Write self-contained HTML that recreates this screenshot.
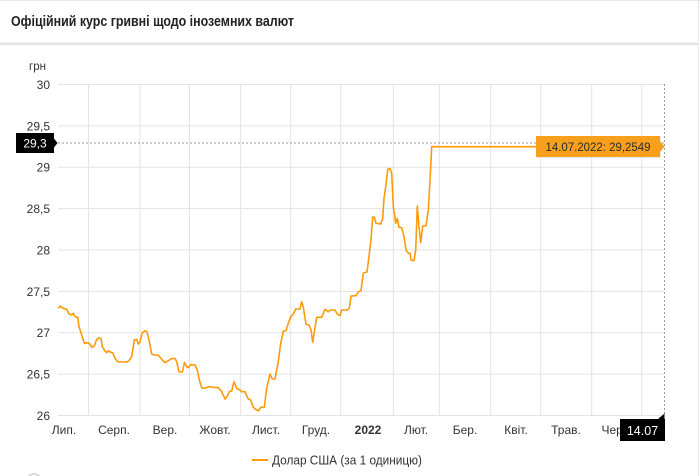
<!DOCTYPE html>
<html><head><meta charset="utf-8"><style>
html,body{margin:0;padding:0;background:#fff;width:700px;height:476px;overflow:hidden}
svg{display:block;font-family:"Liberation Sans",Arial,sans-serif}
</style></head><body>
<svg width="700" height="476" viewBox="0 0 700 476" xmlns="http://www.w3.org/2000/svg">
<rect x="0" y="0" width="700" height="476" fill="#fff"/>
<!-- header -->
<line x1="0" y1="0.5" x2="700" y2="0.5" stroke="#e6e6e6" stroke-width="1"/>
<rect x="0" y="42.5" width="699" height="2.5" fill="#e4e4e4"/>
<line x1="698.5" y1="0" x2="698.5" y2="476" stroke="#e8e8e8" stroke-width="1"/>
<text x="11" y="26" font-size="14.5" font-weight="bold" fill="#222" textLength="283" lengthAdjust="spacingAndGlyphs">Офіційний курс гривні щодо іноземних валют</text>

<!-- grid horizontal -->
<g stroke="#e3e3e3" stroke-width="1">
<line x1="58" y1="84.5" x2="664" y2="84.5"/>
<line x1="58" y1="125.9" x2="664" y2="125.9"/>
<line x1="58" y1="167.3" x2="664" y2="167.3"/>
<line x1="58" y1="208.6" x2="664" y2="208.6"/>
<line x1="58" y1="250" x2="664" y2="250"/>
<line x1="58" y1="291.4" x2="664" y2="291.4"/>
<line x1="58" y1="332.8" x2="664" y2="332.8"/>
<line x1="58" y1="374.1" x2="664" y2="374.1"/>
<line x1="58" y1="415.5" x2="664" y2="415.5"/>
</g>
<!-- grid vertical -->
<g stroke="#e3e3e3" stroke-width="1">
<line x1="88.5" y1="84.5" x2="88.5" y2="415.5"/>
<line x1="140" y1="84.5" x2="140" y2="415.5"/>
<line x1="189.5" y1="84.5" x2="189.5" y2="415.5"/>
<line x1="240.7" y1="84.5" x2="240.7" y2="415.5"/>
<line x1="290.7" y1="84.5" x2="290.7" y2="415.5"/>
<line x1="340.7" y1="84.5" x2="340.7" y2="415.5"/>
<line x1="393.3" y1="84.5" x2="393.3" y2="415.5"/>
<line x1="439.3" y1="84.5" x2="439.3" y2="415.5"/>
<line x1="490.7" y1="84.5" x2="490.7" y2="415.5"/>
<line x1="540.7" y1="84.5" x2="540.7" y2="415.5"/>
<line x1="591.7" y1="84.5" x2="591.7" y2="415.5"/>
<line x1="641.7" y1="84.5" x2="641.7" y2="415.5"/>
</g>

<!-- y labels -->
<g font-size="12" fill="#333" text-anchor="end">
<text x="46" y="70" font-size="11.5">грн</text>
<text x="50" y="89">30</text>
<text x="50" y="130.3">29,5</text>
<text x="50" y="171.7">29</text>
<text x="50" y="213">28,5</text>
<text x="50" y="254.4">28</text>
<text x="50" y="295.8">27,5</text>
<text x="50" y="337.2">27</text>
<text x="50" y="378.5">26,5</text>
<text x="50" y="419.9">26</text>
</g>

<!-- x labels -->
<g font-size="12" fill="#333" text-anchor="middle">
<text x="64" y="434">Лип.</text>
<text x="114" y="434">Серп.</text>
<text x="165" y="434">Вер.</text>
<text x="215" y="434">Жовт.</text>
<text x="266" y="434">Лист.</text>
<text x="316" y="434">Груд.</text>
<text x="368" y="434" font-weight="bold">2022</text>
<text x="416" y="434">Лют.</text>
<text x="465" y="434">Бер.</text>
<text x="516" y="434">Квіт.</text>
<text x="566" y="434">Трав.</text>
<text x="617" y="434">Черв.</text>
</g>

<!-- crosshair dashed -->
<line x1="58" y1="143" x2="664" y2="143" stroke="#9a9a9a" stroke-width="1" stroke-dasharray="2,2"/>
<line x1="664.5" y1="84" x2="664.5" y2="416" stroke="#9a9a9a" stroke-width="1" stroke-dasharray="2,2"/>

<!-- series -->
<polyline fill="none" stroke="#ff9a0a" stroke-width="1.6" stroke-linejoin="round" points="
58.3,308.3 60,306 63.3,308.3 66.7,309.3 69,314 71.7,315 73.3,313.3 75,316.7 77.7,317.3 79,326.7 81.7,335 84.3,343.3 86.7,342.7 89.3,343.3 91.7,347.3 94.3,346 96.7,339.3 99.3,338 101,338.3 102.3,346.7 105,351 106.7,352.7 108.3,350.7 110.7,352.3 112.7,352.7 115,358.3 117.7,361.7 121.7,362 126.7,362 129,360.7 131.7,356.7 134.3,340 136.7,339.3 138.3,344 140,341.7 142.3,332.7 145,330.7 147,331.7 149,340 151.7,354 154.3,355 158.3,355.3 161,358.3 162.3,360 165,362.7 168.3,360.7 171.7,358.7 175,358.3 176.7,361.7 179,371.7 182.3,372 184.5,362.5 186.7,366.7 188.3,367.7 190.7,364.7 195,365 197.3,370 199.3,380 201.7,387.7 205,388.3 208.3,386.7 213.3,387.3 218.3,387.7 221.7,391.7 225,399 226.7,397.3 229.3,391.7 231.7,391 234,381.7 236.7,388.3 240,390 241.7,391.7 245,391.7 248.3,399 250.7,400 253.3,407.3 256.7,410 258.7,410.7 260.7,407.3 264.3,407.3 266.7,388.3 270,374 272.3,379 275,379 278.3,361.7 280.7,343.3 283.3,331 286,330.7 288.3,323.3 290.7,316.7 293.3,314 295.7,309 300,309 301.7,301.7 303.3,307.3 306,324.3 309.3,325.3 311,330 312.7,342.3 314.3,331.7 316.7,317.3 321.7,317.3 325,309.3 328.3,311.7 330.7,310 335,310 337.3,314 340,315.7 341.7,310 347.3,310 349.3,308.3 351,296 356,295.7 358.3,291.7 361,290.7 363.3,273 367,272 369.3,254 371,239 372.7,217 374.3,217.3 376,223.3 380.7,224 382.7,218.3 384,198.3 386,185 387.7,169.3 390,168.7 391.7,173.3 393.3,206.7 395.7,223.3 397.3,218.3 399,227.3 401.7,227.7 404,236.7 406,250 408.3,253.3 410,253.3 411,260 414,260.7 415.7,250 417.3,206 419,226.7 420.7,242.7 422.7,226 426,225.7 428.3,210 430,180 431.7,146.7 664,146.7"/>

<!-- tooltip orange -->
<g>
<rect x="537" y="137" width="124" height="21" fill="#000" opacity="0.08"/>
<rect x="536" y="136" width="124" height="21" fill="#f8a01c"/>
<polygon points="660,141 664.5,146.5 660,152" fill="#f8a01c"/>
<text x="598" y="151" font-size="12" fill="#2b2b2b" text-anchor="middle" textLength="105" lengthAdjust="spacingAndGlyphs">14.07.2022: 29,2549</text>
</g>

<!-- y crosshair label -->
<rect x="16" y="133" width="38" height="20" fill="#000"/>
<polygon points="54,138.5 57.5,143 54,147.5" fill="#000"/>
<text x="35" y="147.5" font-size="12" fill="#fff" text-anchor="middle">29,3</text>

<!-- x crosshair label -->
<rect x="620" y="419" width="45" height="22" fill="#000"/>
<polygon points="658,419 664.5,413.5 664.5,419" fill="#000"/>
<text x="642.5" y="435" font-size="12.5" fill="#fff" text-anchor="middle">14.07</text>

<!-- legend -->
<line x1="252" y1="460" x2="268" y2="460" stroke="#ff9a0a" stroke-width="2"/>
<text x="272" y="464.5" font-size="12.5" fill="#333" textLength="150" lengthAdjust="spacingAndGlyphs">Долар США (за 1 одиницю)</text>

<!-- faint partial icon bottom-left -->
<circle cx="34" cy="481" r="7" fill="none" stroke="#d0d0d0" stroke-width="1.5"/>
</svg>
</body></html>
